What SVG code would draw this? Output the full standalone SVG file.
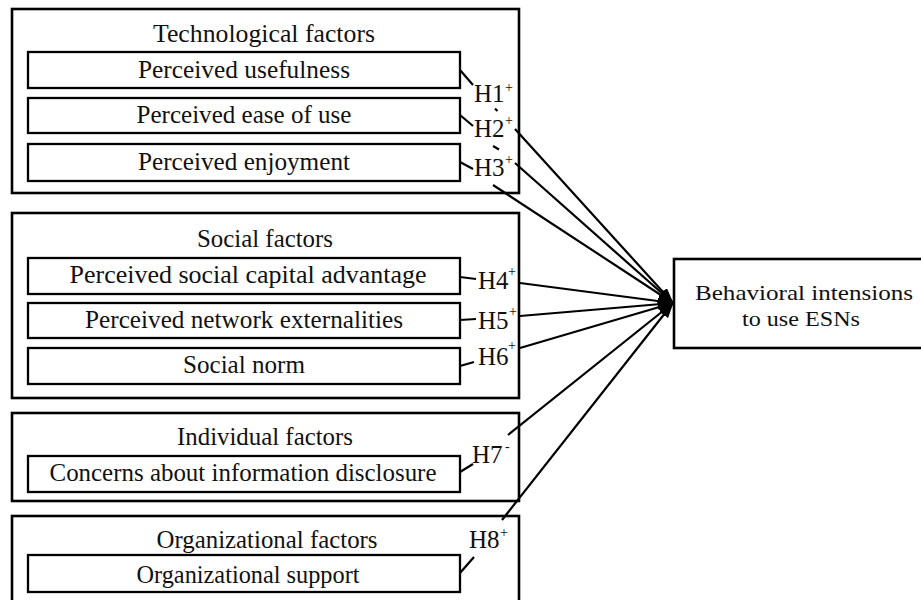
<svg xmlns="http://www.w3.org/2000/svg" width="921" height="600" viewBox="0 0 921 600">
<style>
.outer{fill:none;stroke:#000;stroke-width:2.6}
.inner{fill:none;stroke:#000;stroke-width:2.3}
.t{font-family:"Liberation Serif","Times New Roman",Times,serif;font-size:24.5px;fill:#111;text-anchor:middle}
.tt{font-family:"Liberation Serif","Times New Roman",Times,serif;font-size:22px;fill:#111;text-anchor:middle}
.h{font-family:"Liberation Serif","Times New Roman",Times,serif;font-size:25px;fill:#111}
.s{font-family:"Liberation Serif","Times New Roman",Times,serif;font-size:14px;fill:#111}
.c{fill:none;stroke:#000;stroke-width:2.2}
.a{fill:none;stroke:#000;stroke-width:2.2;marker-end:url(#arr)}
</style>
<defs>
<marker id="arr" markerUnits="userSpaceOnUse" markerWidth="16" markerHeight="11" refX="15" refY="5.5" orient="auto">
<path d="M0,0 L16,5.5 L0,11 z" fill="#000"/>
</marker>
</defs>
<rect width="921" height="600" fill="#fff"/>

<g id="tech">
<rect class="outer" x="12" y="9" width="507" height="184"/>
<text class="t" x="264" y="42" textLength="222" lengthAdjust="spacingAndGlyphs">Technological factors</text>
<g id="pu"><rect class="inner" x="28" y="52" width="432" height="36"/>
<text class="t" x="244" y="78" textLength="212" lengthAdjust="spacingAndGlyphs">Perceived usefulness</text></g>
<g id="peou"><rect class="inner" x="28" y="98" width="432" height="35"/>
<text class="t" x="244" y="123" textLength="215" lengthAdjust="spacingAndGlyphs">Perceived ease of use</text></g>
<g id="pe"><rect class="inner" x="28" y="144" width="432" height="37"/>
<text class="t" x="244" y="170" textLength="212" lengthAdjust="spacingAndGlyphs">Perceived enjoyment</text></g>
</g>

<g id="social">
<rect class="outer" x="12" y="213" width="507" height="185"/>
<text class="t" x="265" y="247" textLength="136" lengthAdjust="spacingAndGlyphs">Social factors</text>
<g id="psca"><rect class="inner" x="28" y="258" width="432" height="36"/>
<text class="t" x="248" y="283" textLength="357" lengthAdjust="spacingAndGlyphs">Perceived social capital advantage</text></g>
<g id="pne"><rect class="inner" x="28" y="303" width="432" height="35"/>
<text class="t" x="244" y="328" textLength="318" lengthAdjust="spacingAndGlyphs">Perceived network externalities</text></g>
<g id="sn"><rect class="inner" x="28" y="348" width="432" height="36"/>
<text class="t" x="244" y="373" textLength="122" lengthAdjust="spacingAndGlyphs">Social norm</text></g>
</g>

<g id="individual">
<rect class="outer" x="12" y="413" width="507" height="88"/>
<text class="t" x="265" y="445" textLength="176" lengthAdjust="spacingAndGlyphs">Individual factors</text>
<g id="cid"><rect class="inner" x="28" y="456" width="432" height="36"/>
<text class="t" x="243" y="481" textLength="387" lengthAdjust="spacingAndGlyphs">Concerns about information disclosure</text></g>
</g>

<g id="organizational">
<rect class="outer" x="12" y="516" width="507" height="90"/>
<text class="t" x="267" y="548" textLength="221" lengthAdjust="spacingAndGlyphs">Organizational factors</text>
<g id="os"><rect class="inner" x="28" y="555" width="432" height="37"/>
<text class="t" x="248" y="583" textLength="223" lengthAdjust="spacingAndGlyphs">Organizational support</text></g>
</g>

<g id="target">
<rect class="outer" x="674" y="259" width="252" height="89"/>
<text class="tt" x="804" y="300" textLength="218" lengthAdjust="spacingAndGlyphs">Behavioral intensions</text>
<text class="tt" x="801" y="326" textLength="118" lengthAdjust="spacingAndGlyphs">to use ESNs</text>
</g>

<g id="labels">
<text class="h" x="474" y="102">H1</text><text class="s" x="505" y="92">+</text>
<text class="h" x="474" y="137">H2</text><text class="s" x="505" y="125">+</text>
<text class="h" x="474" y="176">H3</text><text class="s" x="505" y="164">+</text>
<text class="h" x="478" y="289">H4</text><text class="s" x="508" y="276">+</text>
<text class="h" x="478" y="329">H5</text><text class="s" x="509" y="316">+</text>
<text class="h" x="478" y="365">H6</text><text class="s" x="508" y="350">+</text>
<text class="h" x="472" y="463">H7</text><text class="s" x="505" y="451">-</text>
<text class="h" x="469" y="548">H8</text><text class="s" x="500" y="537">+</text>
</g>

<g id="connectors">
<line class="c" x1="460" y1="70" x2="473" y2="85"/>
<line class="c" x1="460" y1="115" x2="473" y2="126"/>
<line class="c" x1="460" y1="162" x2="473" y2="169"/>
<line class="c" x1="460" y1="277" x2="476" y2="279"/>
<line class="c" x1="460" y1="320" x2="476" y2="319"/>
<line class="c" x1="460" y1="366" x2="474" y2="362"/>
<line class="c" x1="460" y1="472" x2="473" y2="464"/>
<line class="c" x1="460" y1="573" x2="474" y2="557"/>
<line class="c" x1="495" y1="108.5" x2="497.5" y2="111" stroke-width="1.6"/>
<line class="c" x1="493" y1="146" x2="499" y2="149.5" stroke-width="1.8"/>
<line class="a" x1="515" y1="129" x2="673" y2="303"/>
<line class="a" x1="515" y1="163" x2="673" y2="303"/>
<line class="a" x1="493" y1="185" x2="673" y2="303"/>
<line class="a" x1="520" y1="283" x2="673" y2="303"/>
<line class="a" x1="520" y1="316" x2="673" y2="303"/>
<line class="a" x1="520" y1="348" x2="673" y2="303"/>
<line class="a" x1="508" y1="435" x2="673" y2="303"/>
<line class="a" x1="502" y1="520" x2="673" y2="303"/>
</g>
</svg>
